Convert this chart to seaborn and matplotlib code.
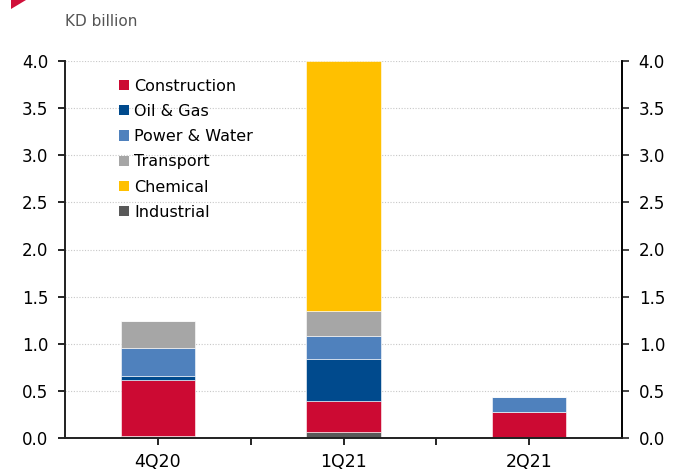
import matplotlib
matplotlib.use("Agg")
import matplotlib.pyplot as plt
import seaborn as sns
import pandas as pd
import numpy as np
from matplotlib.patches import Polygon, Patch

quarters = ["4Q20", "1Q21", "2Q21"]
industrial = [0.025, 0.06, 0.0]
construction = [0.595, 0.33, 0.28]
oil_gas = [0.04, 0.45, 0.0]
power_water = [0.30, 0.245, 0.15]
transport = [0.28, 0.265, 0.0]
chemical = [0.0, 2.65, 0.0]

series_names = ["Industrial", "Construction", "Oil & Gas", "Power & Water", "Transport", "Chemical"]
series_vals = [industrial, construction, oil_gas, power_water, transport, chemical]
colors = {
    "Construction": "#CC0A33",
    "Oil & Gas": "#004A8D",
    "Power & Water": "#4F81BD",
    "Transport": "#A6A6A6",
    "Chemical": "#FFC000",
    "Industrial": "#595959",
}
legend_order = ["Construction", "Oil & Gas", "Power & Water", "Transport", "Chemical", "Industrial"]
yticks = [0.0, 0.5, 1.0, 1.5, 2.0, 2.5, 3.0, 3.5, 4.0]

sns.set_theme(style="white")
plt.rcParams["font.family"] = ["DejaVu Sans"]

fig = plt.figure(figsize=(6.73, 4.70), dpi=100)
ax = fig.add_axes([65 / 673, 32 / 470, 557 / 673, 377 / 470])

bottom = np.zeros(len(quarters))
for name, vals in zip(series_names, series_vals):
    df = pd.DataFrame({"q": quarters, "v": vals})
    sns.barplot(data=df, x="q", y="v", order=quarters, color=colors[name],
                bottom=bottom.copy(), width=0.4, ax=ax, saturation=1,
                edgecolor="white", linewidth=0.4, errorbar=None)
    bottom += np.array(vals)

ax.set_xlim(-0.5, 2.5)
ax.set_ylim(0, 4.0)
ax.set_yticks(yticks)
ax.set_yticklabels([f"{t:.1f}" for t in yticks])
ax.set_xlabel("")
ax.set_ylabel("")
ax.set_xticks([0.5, 1.5], minor=True)
ax.yaxis.grid(True, linestyle=(0, (1, 1.5)), color="#C8C8C8", linewidth=0.8)
ax.set_axisbelow(True)
ax.spines["top"].set_visible(False)
for s in ["left", "right", "bottom"]:
    ax.spines[s].set_visible(True)
    ax.spines[s].set_color("black")
    ax.spines[s].set_linewidth(1.2)
ax.tick_params(axis="both", which="both", direction="out", length=5, width=1.2,
               color="black", labelsize=12, labelcolor="black")
ax.tick_params(axis="x", which="major", pad=6, labelsize=12.5)
ax.tick_params(axis="x", which="both", bottom=True)
ax.tick_params(axis="y", left=True, pad=7)

ax2 = ax.twinx()
ax2.set_ylim(0, 4.0)
ax2.set_yticks(yticks)
ax2.set_yticklabels([f"{t:.1f}" for t in yticks])
ax2.spines["top"].set_visible(False)
ax2.spines["right"].set_color("black")
ax2.spines["right"].set_linewidth(1.2)
ax2.tick_params(axis="y", direction="out", length=5, width=1.2, right=True,
                labelsize=12, labelcolor="black", pad=7)
ax2.grid(False)

handles = [Patch(facecolor=colors[n], edgecolor="none") for n in legend_order]
leg = ax.legend(handles, legend_order, loc="upper left", bbox_to_anchor=(0.085, 0.97),
                frameon=False, fontsize=11.5, handlelength=0.62, handleheight=0.62,
                handletextpad=0.35, labelspacing=0.64, borderaxespad=0,
                labelcolor="black")

fig.text(65 / 673, 1 - 21 / 470, "KD billion", fontsize=11, color="#555555",
         va="center", ha="left")
tri = Polygon([[11 / 673, 1.0], [26 / 673, 1.0], [11 / 673, 1 - 9 / 470]],
              closed=True, transform=fig.transFigure, facecolor="#D0103A",
              edgecolor="none")
fig.patches.append(tri)

fig.savefig("out.png", dpi=100)
